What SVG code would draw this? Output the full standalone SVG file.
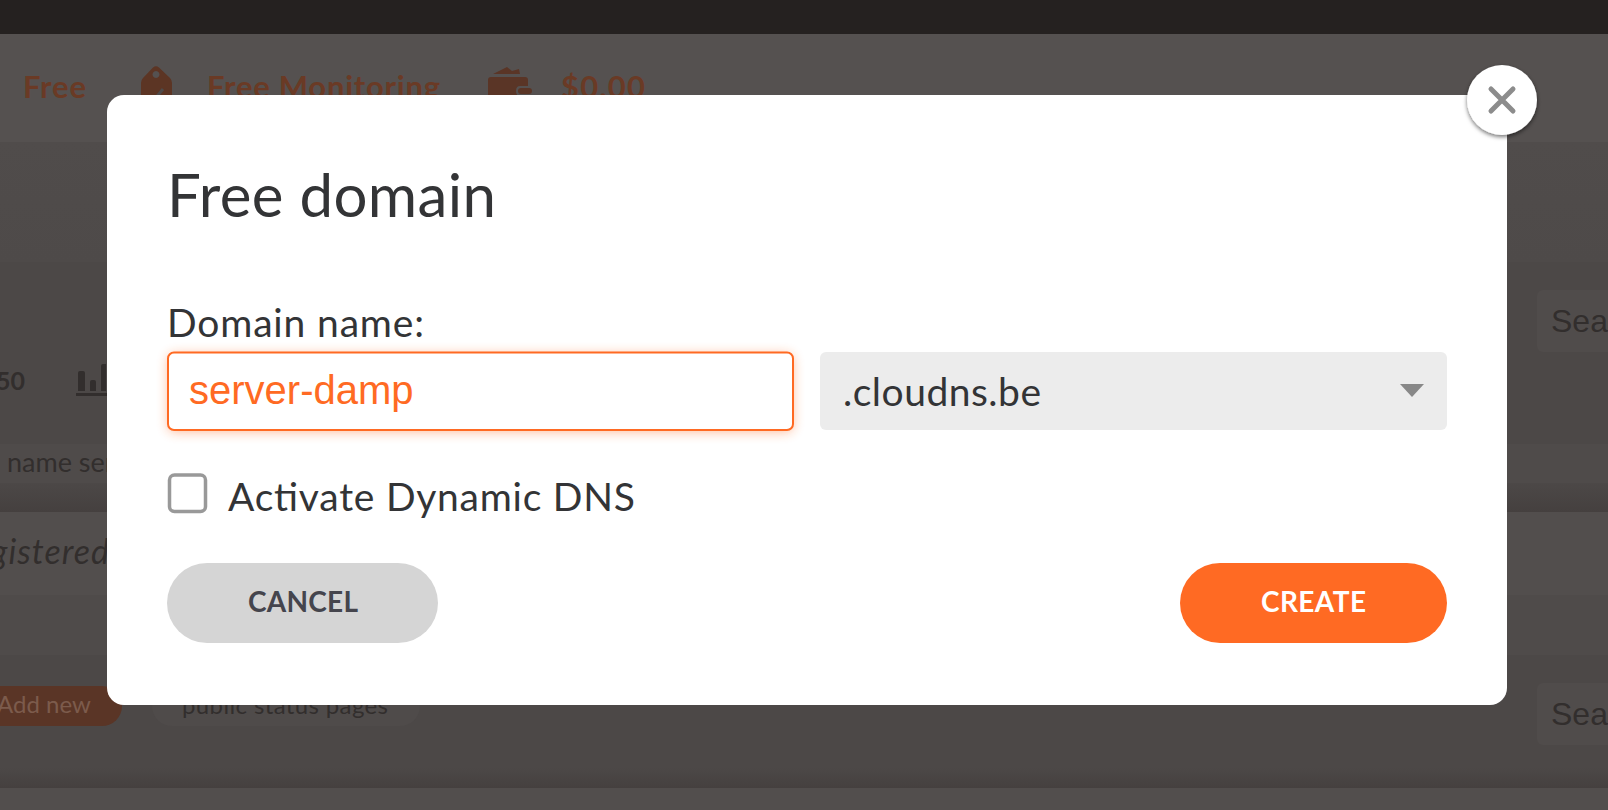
<svg xmlns="http://www.w3.org/2000/svg" width="1608" height="810" viewBox="0 0 1608 810">
<defs>
<linearGradient id="bandB" x1="0" y1="0" x2="0" y2="1"><stop offset="0" stop-color="#504c4b"/><stop offset="1" stop-color="#4e4a49"/></linearGradient>
<linearGradient id="edge" x1="0" y1="0" x2="0" y2="1"><stop offset="0" stop-color="#4c4847"/><stop offset="1" stop-color="#45403f"/></linearGradient>
<filter id="glow" x="-5%" y="-30%" width="110%" height="160%"><feGaussianBlur stdDeviation="6"/></filter>
<filter id="btnShadow" x="-30%" y="-30%" width="160%" height="160%"><feDropShadow dx="0" dy="2" stdDeviation="2" flood-color="#000" flood-opacity="0.55"/></filter>
</defs>
<style>
.n{font-family:"Lato","Noto Sans",sans-serif}
.h{font-family:"Liberation Sans",Arial,sans-serif}
.bgdark{fill:#322e2d}
.bgor{fill:#6a3a25;font-weight:700}
.ink{fill:#333436}
</style>
<g id="backdrop">
<rect width="1608" height="810" fill="#4c4847"/>
<rect width="1608" height="34" fill="#252120"/>
<rect y="34" width="1608" height="108" fill="#555150"/>
<rect y="142" width="1608" height="120" fill="url(#bandB)"/>
<rect y="262" width="1608" height="182" fill="#4c4847"/>
<rect y="444" width="1608" height="39" fill="#4f4b4a"/>
<rect y="483" width="1608" height="29" fill="url(#edge)"/>
<rect y="512" width="1608" height="83" fill="#524e4d"/>
<rect y="595" width="1608" height="60" fill="#4f4b4a"/>
<rect y="655" width="1608" height="113" fill="#4c4847"/>
<rect y="768" width="1608" height="20" fill="url(#edge)"/>
<rect y="788" width="1608" height="22" fill="#524e4d"/>
</g>
<g id="page-header">
<text class="n bgor" x="23" y="98" font-size="31" textLength="63">Free</text>
<path id="tag-icon" fill-rule="evenodd" d="M153 67.500 Q156 65 159 67.500 L170 78 Q172 80 172 83 L172 110 L141 110 L141 83 Q141 80 143 78 Z M156 71 a3.500 3.500 0 1 0 0.010 0 Z" fill="#5c3524"/>
<path d="M150 96l4 4 9-11" fill="none" stroke="#4e4a49" stroke-width="3"/>
<text class="n bgor" x="207" y="98" font-size="31" textLength="233">Free Monitoring</text>
<g id="wallet-icon" fill="#5a3526">
<path d="M493 74 L507 67 L512 71 L519 69 L520 74 Z"/>
<path d="M491 77 L525 77 Q528 77 528 80 L528 86 L520 86 Q516 86 516 91 Q516 96 520 96 L528 96 L528 110 L488 110 L488 80 Q488 77 491 77 Z"/>
<rect x="518" y="88" width="14" height="6" rx="3"/>
</g>
<text class="n bgor" x="561" y="98" font-size="31" textLength="84">$0.00</text>
</g>
<g id="page-rows">
<text class="n bgdark" x="-4" y="390" font-size="25" font-weight="700">50</text>
<path id="chart-icon" d="M78 373q0-2 2-2h3q2 0 2 2v18h-7zM90 382q0-2 2-2h2q2 0 2 2v9h-6zM101 366q0-2 2-2h3v27h-5zM76 393h32v3H76z" fill="#322e2d"/>
<text class="n bgdark" x="7" y="472" font-size="27">name ser</text>
<text class="n bgdark" x="-9" y="564" font-size="34" font-style="italic" textLength="118">gistered</text>
<rect x="-40" y="686" width="162" height="40" rx="20" fill="#5a3526"/>
<text class="n" x="-3" y="713" font-size="24" fill="#7c5b4c">Add new</text>
<rect x="152" y="686" width="268" height="40" rx="20" fill="#4f4b4a"/>
<text class="n bgdark" x="182" y="714" font-size="24" textLength="206">public status pages</text>
<rect x="1537" y="290" width="90" height="62" rx="6" fill="#504c4b"/>
<text class="h bgdark" x="1551" y="332" font-size="32">Sea</text>
<rect x="1537" y="683" width="90" height="62" rx="6" fill="#504c4b"/>
<text class="h bgdark" x="1551" y="725" font-size="32">Sea</text>
</g>
<g id="dialog">
<rect x="107" y="95" width="1400" height="610" rx="17" fill="#fff"/>
<text class="n ink" x="167" y="217" font-size="60" textLength="329">Free domain</text>
<text class="n ink" x="167" y="337" font-size="39" textLength="257">Domain name:</text>
</g>
<g id="domain-input">
<rect x="168" y="354" width="625" height="78" rx="6" fill="#ff6a23" opacity="0.45" filter="url(#glow)"/>
<rect x="168" y="352.500" width="625" height="77.500" rx="6" fill="#fff" stroke="#ff6a23" stroke-width="2"/>
<text class="h" x="189" y="404" font-size="40" fill="#ff6a23">server-damp</text>
</g>
<g id="domain-select">
<rect x="820" y="352" width="627" height="78" rx="6" fill="#ececec"/>
<text class="n ink" x="843" y="406" font-size="39" textLength="198">.cloudns.be</text>
<path d="M1400 384h24l-12 13z" fill="#888"/>
</g>
<g id="dynamic-dns">
<rect x="169.500" y="475" width="36" height="36.500" rx="5" fill="#fff" stroke="#999" stroke-width="3.500"/>
<text class="n ink" x="228" y="511" font-size="39" textLength="407">Activate Dynamic DNS</text>
</g>
<g id="cancel-button">
<rect x="167" y="563" width="271" height="80" rx="40" fill="#d5d5d5"/>
<text class="n" x="248" y="612" font-size="28" font-weight="700" fill="#45454d" textLength="110">CANCEL</text>
</g>
<g id="create-button">
<rect x="1180" y="563" width="267" height="80" rx="40" fill="#ff6a23"/>
<text class="n" x="1261" y="612" font-size="28" font-weight="700" fill="#fff" textLength="105">CREATE</text>
</g>
<g id="close-button">
<circle cx="1502" cy="100" r="35" fill="#fff" filter="url(#btnShadow)"/>
<path d="M1491 89l22 22M1513 89l-22 22" fill="none" stroke="#8c8c8c" stroke-width="5" stroke-linecap="round"/>
</g>
</svg>
